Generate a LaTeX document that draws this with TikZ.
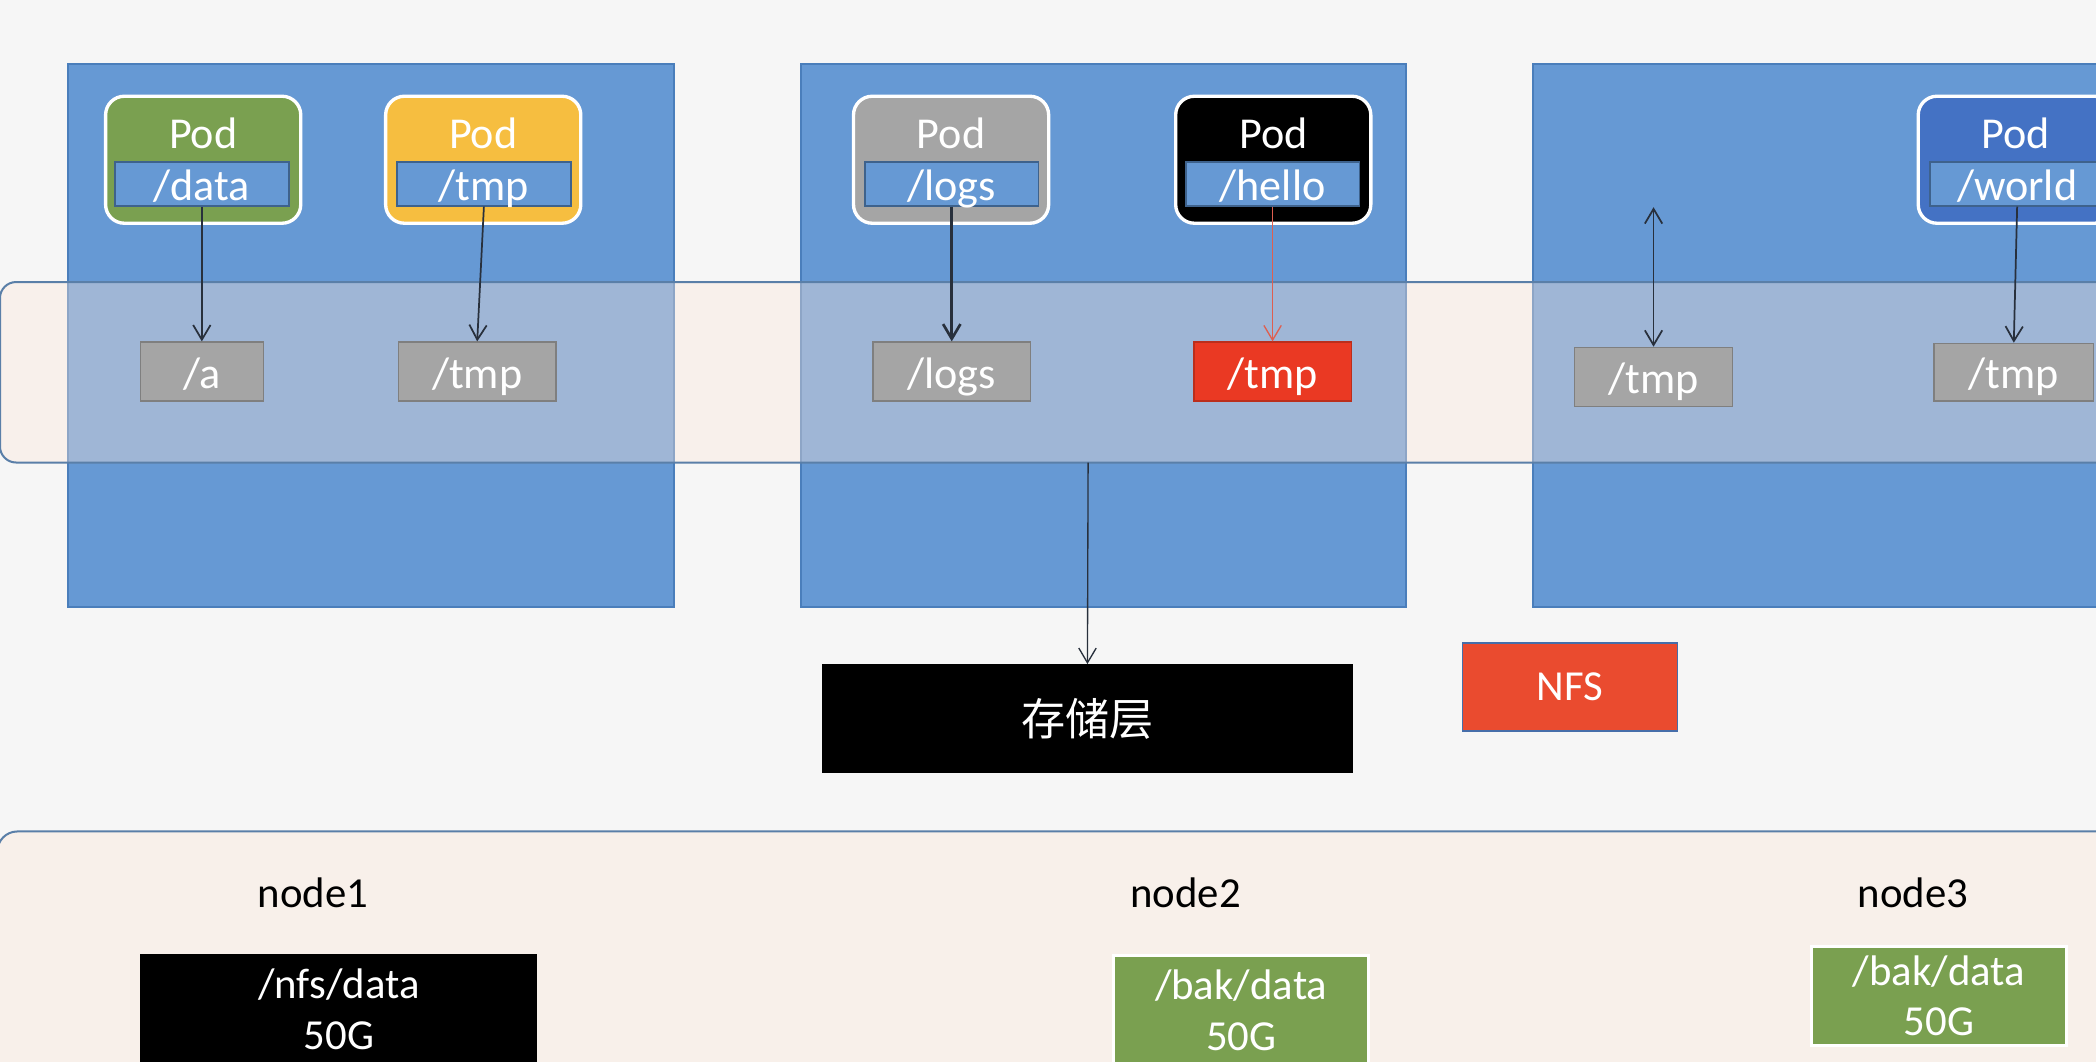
\documentclass[tikz,border=0pt]{standalone}
\usepackage{fontspec}
\setmainfont{Carlito}
\newfontfamily\cjk{Noto Sans CJK SC}
\usetikzlibrary{arrows.meta}

\definecolor{bgcol}{RGB}{246,246,246}
\definecolor{hostblue}{RGB}{102,153,212}
\definecolor{hostline}{RGB}{74,126,187}
\definecolor{bandfill}{RGB}{252,231,218}
\definecolor{bandline}{RGB}{90,127,168}
\definecolor{floorfill}{RGB}{248,240,234}
\definecolor{podgreen}{RGB}{122,160,80}
\definecolor{podyellow}{RGB}{246,190,64}
\definecolor{podgray}{RGB}{165,165,165}
\definecolor{podblue}{RGB}{68,114,196}
\definecolor{volline}{RGB}{62,98,140}
\definecolor{dirline}{RGB}{127,127,127}
\definecolor{tmpred}{RGB}{234,57,35}
\definecolor{nfsred}{RGB}{234,75,47}
\definecolor{nfsline}{RGB}{70,110,170}
\definecolor{arrline}{RGB}{40,48,60}
\definecolor{redline}{RGB}{222,95,80}

\begin{document}
\begin{tikzpicture}[x=1pt,y=-1pt]
\tikzstyle{every node}+=[inner sep=0pt, text=white]
\tikzstyle{hostbox}=[draw=hostline, fill=hostblue, line width=1.2pt]
\tikzstyle{pod}=[draw=white, line width=2.5pt, rounded corners=14pt, minimum width=146pt, minimum height=95pt]
\tikzstyle{podname}=[font=\fontsize{33}{40}\selectfont]
\tikzstyle{vol}=[draw=volline, fill=hostblue, line width=1.2pt, minimum width=130pt, minimum height=33pt, text height=26pt, text depth=1pt, font=\fontsize{33}{40}\selectfont]
\tikzstyle{dir}=[draw=dirline, fill=podgray, line width=1.2pt, minimum height=44pt, minimum width=118pt, text height=26pt, text depth=1pt, font=\fontsize{33}{40}\selectfont]
\tikzstyle{disk}=[minimum width=191pt, font=\fontsize{32}{38}\selectfont, align=center]
\tikzstyle{hostname}=[text=black, font=\fontsize{32}{38}\selectfont]
\tikzstyle{arr}=[draw=arrline, line width=1.3pt, -{Straight Barb[length=11pt,width=13pt]}]
\useasboundingbox (0,0) rectangle (1568,794);
\clip (0,0) rectangle (1568,794);
\fill [bgcol] (0,0) rectangle (1568,794);
\draw [hostbox] (51,48) rectangle (504,454);
\draw [hostbox] (599,48) rectangle (1052,454);
\draw [hostbox] (1147,48) rectangle (1620,454);
\node [pod, fill=podgreen] (pod1) at (152,119.5) {};
\node [pod, fill=podyellow] (pod2) at (361.5,119.5) {};
\node [pod, fill=podgray] (pod3) at (711.5,119.5) {};
\node [pod, fill=black] (pod4) at (952.5,119.5) {};
\node [pod, fill=podblue] (pod5) at (1508,119.5) {};
\node [podname] (name1) at (152,100) {Pod};
\node [podname] (name2) at (361.5,100) {Pod};
\node [podname] (name3) at (711.5,100) {Pod};
\node [podname] (name4) at (952.5,100) {Pod};
\node [podname] (name5) at (1508,100) {Pod};
\node [vol] (vol1) at (151,137.5) {/data};
\node [vol] (vol2) at (362,137.5) {/tmp};
\node [vol] (vol3) at (712,137.5) {/logs};
\node [vol] (vol4) at (952,137.5) {/hello};
\node [vol] (vol5) at (1509,137.5) {/world};
\draw [draw=bandline, line width=1.5pt, fill=bandfill, fill opacity=0.38, rounded corners=12pt] (0,211) rectangle (1620,346);
\node [dir, minimum width=92pt] (dir1) at (151,278) {/a};
\node [dir] (dir2) at (357,278) {/tmp};
\node [dir] (dir3) at (712,278) {/logs};
\node [dir, fill=tmpred, draw=tmpred!80!black] (dir4) at (952,278) {/tmp};
\node [dir] (dir5) at (1237,282) {/tmp};
\node [dir, minimum width=119pt, minimum height=43pt] (dir6) at (1506.5,278.5) {/tmp};
\coordinate (up5) at (1237,155);
\coordinate (bandout) at (814,346);
\draw [arr] (vol1.south) -- (dir1.north);
\draw [arr] (vol2.south) -- (dir2.north);
\draw [arr, line width=2pt] (vol3.south) -- (dir3.north);
\draw [arr, draw=redline, line width=1pt] (vol4.south) -- (dir4.north);
\draw [arr, {Straight Barb[length=11pt,width=13pt]}-{Straight Barb[length=11pt,width=13pt]}] (up5) -- (dir5.north);
\draw [arr] (vol5.south) -- (dir6.north);
\node [fill=black, minimum width=397pt, minimum height=81pt, font=\fontsize{33}{40}\selectfont\cjk] (store) at (813.5,537.5) {存储层};
\draw [arr, line width=1pt] (bandout) -- (store.north);
\node [fill=nfsred, draw=nfsline, line width=1.2pt, minimum width=161pt, minimum height=66pt, font=\fontsize{32}{38}\selectfont] (nfs) at (1174.5,514) {NFS};
\draw [draw=bandline, line width=1.5pt, fill=floorfill, rounded corners=15pt] (-2,622) rectangle (1620,830);
\node [hostname] (host1) at (234,668) {node1};
\node [hostname] (host2) at (887,668) {node2};
\node [hostname] (host3) at (1431,668) {node3};
\node [disk, fill=black, minimum width=297pt, minimum height=82pt] (disk1) at (253.5,755) {/nfs/data\\50G};
\node [disk, fill=podgreen, draw=white, line width=2pt, minimum height=82pt] (disk2) at (928.5,756) {/bak/data\\50G};
\node [disk, fill=podgreen, draw=white, line width=2pt, minimum height=74pt] (disk3) at (1450.5,745) {/bak/data\\50G};
\end{tikzpicture}
\end{document}
